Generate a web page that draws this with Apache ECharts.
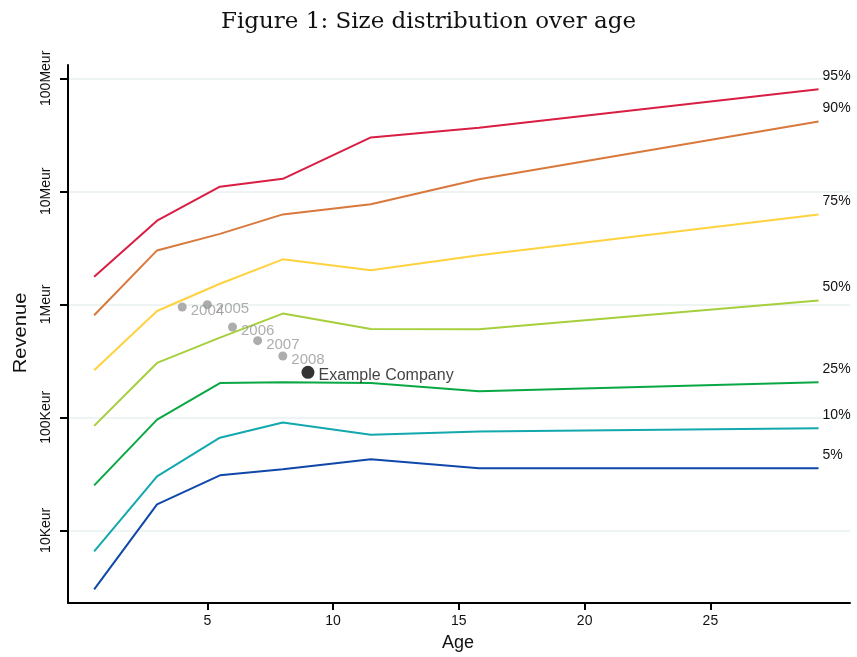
<!DOCTYPE html>
<html>
<head>
<meta charset="utf-8">
<title>Size distribution over age</title>
<script src="https://cdn.jsdelivr.net/npm/echarts@6/dist/echarts.min.js"></script>
<style>
  html, body { margin: 0; padding: 0; background: #ffffff; }
  #chart { width: 857px; height: 657px; }
</style>
</head>
<body>
<div id="chart"></div>
<script>
// Age bins (years) at which the revenue percentiles are evaluated
const ages = [0.5, 3.0, 5.5, 8.0, 11.5, 15.8, 29.3];

// Revenue percentiles per age bin (EUR)
const p95 = [1.75e6, 5.5e6, 11.0e6, 12.9e6, 30.0e6, 36.5e6, 80e6];
const p90 = [0.80e6, 3.0e6, 4.2e6, 6.25e6, 7.7e6, 12.8e6, 41.5e6];
const p75 = [261e3, 873e3, 1.52e6, 2.50e6, 2.0e6, 2.72e6, 6.25e6];
const p50 = [84e3, 303e3, 507e3, 828e3, 604e3, 601e3, 1.08e6];
const p25 = [25e3, 95.5e3, 201e3, 204e3, 201e3, 170e3, 204e3];
const p10 = [6.5e3, 30e3, 66e3, 90e3, 70e3, 75e3, 80e3];
const p05 = [3.0e3, 17e3, 30.7e3, 34.7e3, 42.5e3, 35.4e3, 35.4e3];

const percentileNames = ['95%', '90%', '75%', '50%', '25%', '10%', '5%'];
const percentileValues = [p95, p90, p75, p50, p25, p10, p05];
const percentileColors = ['#d81e43', '#d9783c', '#ffd23f', '#a5cf3c', '#0aa845', '#13a8ad', '#0f48a8'];

// Company history: age and revenue per year
const historyYears = ['2004', '2005', '2006', '2007', '2008'];
const historyAges = [4, 5, 6, 7, 8];
const historyRevenue = [946e3, 994e3, 630e3, 477e3, 349e3];

const companyName = 'Example Company';
const companyAge = 9;
const companyRevenue = 250e3;

// Axis ticks
const xTicks = [5, 10, 15, 20, 25];
const yTicks = [1e4, 1e5, 1e6, 1e7, 1e8];
const yTickLabels = ['10Keur', '100Keur', '1Meur', '10Meur', '100Meur'];

const sansFont = '"Liberation Sans", Arial, sans-serif';

const lineSeries = percentileNames.map((name, i) => ({
  name: name,
  type: 'line',
  data: ages.map((a, j) => [a, percentileValues[i][j]]),
  showSymbol: false,
  symbol: 'none',
  lineStyle: { color: percentileColors[i], width: 2 },
  itemStyle: { color: percentileColors[i] },
  silent: true,
  z: 3,
  endLabel: {
    show: true,
    formatter: '{a}',
    distance: 4,
    offset: [0, -13],
    color: '#111',
    fontFamily: sansFont,
    fontSize: 14
  }
}));

const historySeries = {
  name: 'history',
  type: 'scatter',
  data: historyAges.map((a, i) => ({ value: [a, historyRevenue[i]], name: historyYears[i] })),
  symbolSize: 9,
  itemStyle: { color: '#999999' },
  z: 5,
  label: {
    show: true,
    position: 'right',
    distance: 4,
    offset: [0, 4],
    formatter: '{b}',
    color: '#999999',
    fontFamily: sansFont,
    fontSize: 15
  }
};

const companySeries = {
  name: 'company',
  type: 'scatter',
  data: [{ value: [companyAge, companyRevenue], name: companyName }],
  symbolSize: 13,
  itemStyle: { color: '#000000' },
  z: 6,
  label: {
    show: true,
    position: 'right',
    distance: 4,
    offset: [0, 3],
    formatter: '{b}',
    color: '#111111',
    fontFamily: sansFont,
    fontSize: 16
  }
};

const chart = echarts.init(document.getElementById('chart'), null, { renderer: 'canvas' });

chart.setOption({
  animation: false,
  backgroundColor: '#ffffff',
  title: {
    text: 'Figure 1: Size distribution over age',
    left: 'center',
    top: 6,
    textStyle: {
      fontFamily: '"DejaVu Serif", "Liberation Serif", serif',
      fontWeight: 'normal',
      fontSize: 23,
      color: '#111'
    }
  },
  grid: { left: 68, right: 7, top: 65, bottom: 54, containLabel: false },
  xAxis: {
    type: 'value',
    min: -0.54,
    max: 30.55,
    axisLine: { show: true, onZero: false, lineStyle: { color: '#000', width: 2 } },
    axisTick: { show: true, length: 7, lineStyle: { color: '#000', width: 2 }, customValues: xTicks },
    axisLabel: { customValues: xTicks, margin: 11, color: '#111', fontFamily: sansFont, fontSize: 14 },
    splitLine: { show: false }
  },
  yAxis: {
    type: 'log',
    logBase: 10,
    min: 2275,
    max: 1.312e8,
    axisLine: { show: true, onZero: false, lineStyle: { color: '#000', width: 2 } },
    axisTick: { show: true, length: 8, lineStyle: { color: '#000', width: 2 }, customValues: yTicks },
    axisLabel: {
      customValues: yTicks,
      rotate: 90,
      margin: 15,
      color: '#111',
      fontFamily: sansFont,
      fontSize: 14,
      formatter: function (v) {
        const k = Math.round(Math.log10(v));
        const idx = yTicks.findIndex(t => Math.round(Math.log10(t)) === k);
        return idx >= 0 ? yTickLabels[idx] : '';
      }
    },
    splitLine: { show: true, lineStyle: { color: '#edf4f3', width: 2 } }
  },
  graphic: [
    {
      type: 'text',
      left: 442,
      top: 634,
      style: { text: 'Age', font: '18px ' + sansFont, fill: '#111' }
    },
    {
      type: 'text',
      x: 21,
      y: 333,
      rotation: Math.PI / 2,
      scaleX: 1.12,
      style: { text: 'Revenue', font: '18px ' + sansFont, fill: '#111', align: 'center', verticalAlign: 'middle' }
    }
  ],
  series: lineSeries.concat([historySeries, companySeries])
});
</script>
</body>
</html>
